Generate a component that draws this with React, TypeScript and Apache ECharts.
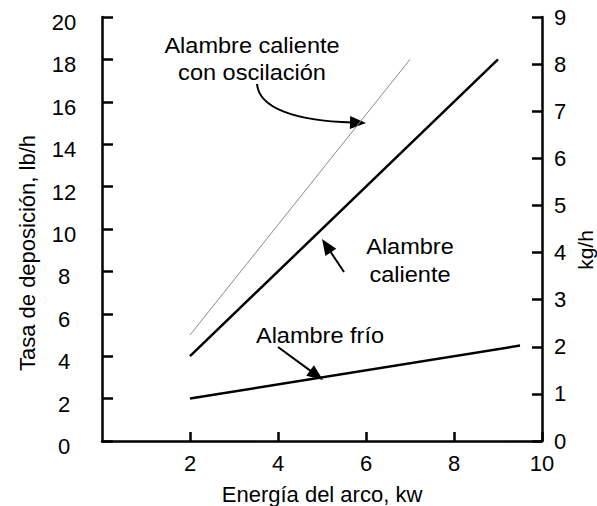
import React, { useEffect, useRef } from "react";
import * as echarts from "echarts";

// ---- data ----
const energyOsc = [2, 7];
const rateOsc = [5, 18];
const energyHot = [2, 9];
const rateHot = [4, 18];
const energyCold = [2, 9.5];
const rateCold = [2, 4.5];

const xMin = 0, xMax = 10, xStep = 2;
const lbMin = 0, lbMax = 20, lbStep = 2;
const kgMin = 0, kgMax = 9, kgStep = 1;

const xName = "Energía del arco, kw";
const yLeftName = "Tasa de deposición, lb/h";
const yRightName = "kg/h";
const labelOsc = "Alambre caliente\ncon oscilación";
const labelHot = "Alambre\ncaliente";
const labelCold = "Alambre frío";

const FONT = "Liberation Sans, Arial, sans-serif";
const FS = 22;

function pairs(xs: number[], ys: number[]) {
  return xs.map((x, i) => [x, ys[i]]);
}

function arrowHead(sx: number, sy: number, tx: number, ty: number, L = 16, hw = 6.5) {
  const dx = tx - sx, dy = ty - sy;
  const len = Math.sqrt(dx * dx + dy * dy);
  const ux = dx / len, uy = dy / len;
  const nx = -uy, ny = ux;
  const bx = tx - L * ux, by = ty - L * uy;
  return [
    [tx, ty],
    [bx + hw * nx, by + hw * ny],
    [bx - hw * nx, by - hw * ny],
  ];
}

function straightArrow(sx: number, sy: number, tx: number, ty: number) {
  const dx = tx - sx, dy = ty - sy;
  const len = Math.sqrt(dx * dx + dy * dy);
  const ex = tx - (dx / len) * 12, ey = ty - (dy / len) * 12;
  return [
    {
      type: "line",
      shape: { x1: sx, y1: sy, x2: ex, y2: ey },
      style: { stroke: "#000", lineWidth: 2 },
    },
    {
      type: "polygon",
      shape: { points: arrowHead(sx, sy, tx, ty) },
      style: { fill: "#000" },
    },
  ];
}

function annText(text: string, x: number, y: number, lh: number) {
  return {
    type: "text",
    x,
    y,
    scaleX: 1.07,
    style: {
      text,
      x: 0,
      y: 0,
      align: "center",
      verticalAlign: "middle",
      textAlign: "center",
      textVerticalAlign: "middle",
      fontSize: FS,
      fontFamily: FONT,
      lineHeight: lh,
      fill: "#000",
    },
  };
}

export default function App() {
  const ref = useRef<HTMLDivElement>(null);

  useEffect(() => {
    if (!ref.current) return;
    const chart = echarts.init(ref.current, undefined, { renderer: "svg" });

    const axisLine = { show: true, lineStyle: { color: "#000", width: 2.5 } };
    const tickStyle = { color: "#000", width: 2.5 };

    const option: any = {
      animation: false,
      backgroundColor: "#fff",
      textStyle: { fontFamily: FONT },
      grid: {
        left: 102,
        right: 55,
        top: 17,
        bottom: 65,
        containLabel: false,
        outerBoundsMode: "none",
      },
      xAxis: {
        type: "value",
        min: xMin,
        max: xMax,
        interval: xStep,
        name: xName,
        nameLocation: "middle",
        nameGap: 42,
        nameTextStyle: { fontSize: FS, color: "#000", fontFamily: FONT },
        axisLine,
        axisTick: { show: true, inside: true, length: 9, lineStyle: tickStyle },
        axisLabel: {
          showMinLabel: false,
          formatter: (v: number) => (v === 0 ? "" : String(v)),
          margin: 11,
          fontSize: FS,
          color: "#000",
          fontFamily: FONT,
        },
        splitLine: { show: false },
      },
      yAxis: [
        {
          type: "value",
          position: "left",
          min: lbMin,
          max: lbMax,
          interval: lbStep,
          name: yLeftName,
          nameLocation: "middle",
          nameRotate: 90,
          nameGap: 64,
          nameTextStyle: {
            fontSize: FS,
            color: "#000",
            fontFamily: FONT,
            padding: [0, 48, 0, 0],
          },
          axisLine,
          axisTick: { show: true, inside: true, length: 11, lineStyle: tickStyle },
          axisLabel: {
            margin: 38,
            align: "center",
            verticalAlign: "top",
            lineHeight: 11,
            fontSize: FS,
            color: "#000",
            fontFamily: FONT,
          },
          splitLine: { show: false },
        },
        {
          type: "value",
          position: "right",
          min: kgMin,
          max: kgMax,
          interval: kgStep,
          axisLine,
          axisTick: { show: true, inside: true, length: 10, lineStyle: tickStyle },
          axisLabel: {
            margin: 12,
            align: "left",
            fontSize: FS,
            color: "#000",
            fontFamily: FONT,
          },
          splitLine: { show: false },
        },
      ],
      series: [
        {
          type: "line",
          name: "Alambre caliente con oscilación",
          yAxisIndex: 0,
          data: pairs(energyOsc, rateOsc),
          symbol: "none",
          lineStyle: { color: "#8a8a8a", width: 1 },
        },
        {
          type: "line",
          name: "Alambre caliente",
          yAxisIndex: 0,
          data: pairs(energyHot, rateHot),
          symbol: "none",
          lineStyle: { color: "#000", width: 2.5 },
        },
        {
          type: "line",
          name: "Alambre frío",
          yAxisIndex: 0,
          data: pairs(energyCold, rateCold),
          symbol: "none",
          lineStyle: { color: "#000", width: 2.5 },
        },
      ],
      graphic: [
        {
          type: "text",
          x: 585,
          y: 250,
          rotation: Math.PI / 2,
          style: {
            text: yRightName,
            x: 0,
            y: 0,
            align: "center",
            verticalAlign: "middle",
            textAlign: "center",
            textVerticalAlign: "middle",
            fontSize: 21,
            fontFamily: FONT,
            fill: "#000",
          },
        },
        annText(labelOsc, 252, 59, 27),
        {
          type: "bezierCurve",
          shape: { x1: 257, y1: 84, cpx1: 259, cpy1: 108, cpx2: 295, cpy2: 121, x2: 352, y2: 122.5 },
          style: { stroke: "#000", lineWidth: 2, fill: "none" },
        },
        {
          type: "polygon",
          shape: { points: arrowHead(340, 122.3, 366, 123) },
          style: { fill: "#000" },
        },
        annText(labelHot, 410, 260, 28),
        ...straightArrow(344, 272, 322, 239),
        annText(labelCold, 320, 335, 26),
        ...straightArrow(278, 347, 323, 380),
      ],
    };

    chart.setOption(option);
    return () => chart.dispose();
  }, []);

  return (
    <div
      ref={ref}
      style={{ position: "absolute", left: 0, top: 0, width: 597, height: 506, background: "#fff" }}
    />
  );
}
